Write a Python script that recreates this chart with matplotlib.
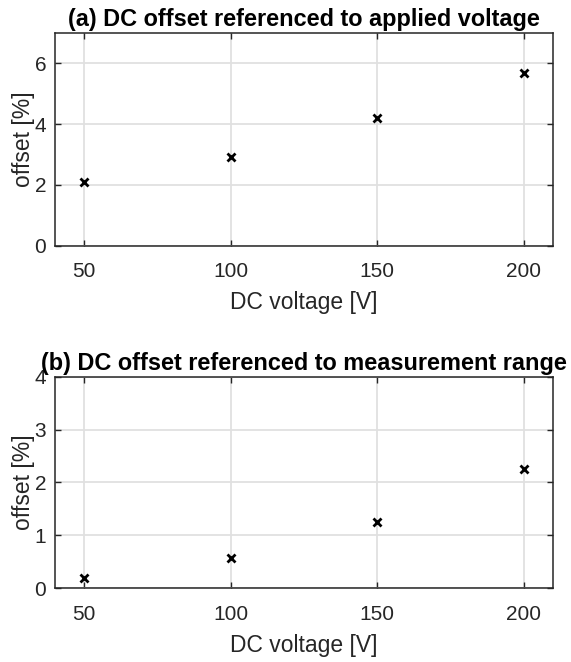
import matplotlib
matplotlib.use("Agg")
import matplotlib.pyplot as plt
from matplotlib import font_manager as fm

plt.rcParams['font.family'] = ['Liberation Sans', 'DejaVu Sans']

# Regular-width bold face for the panel titles
bold_file = None
for f in fm.findSystemFonts():
    if f.endswith('LiberationSans-Bold.ttf'):
        bold_file = f
        break
title_font = (fm.FontProperties(fname=bold_file, size=16.9) if bold_file
              else fm.FontProperties(family='Liberation Sans', weight='bold', size=16.9))

voltage = [50, 100, 150, 200]
offset_applied = [2.08, 2.91, 4.19, 5.68]
offset_range = [0.19, 0.58, 1.26, 2.26]

titles = ["(a) DC offset referenced to applied voltage",
          "(b) DC offset referenced to measurement range"]
xticks = [50, 100, 150, 200]
yticks_a = [0, 2, 4, 6]
yticks_b = [0, 1, 2, 3, 4]

fig = plt.figure(figsize=(5.71, 6.62), dpi=100)
ax_a = fig.add_axes([0.0958, 0.6289, 0.8727, 0.3213])
ax_b = fig.add_axes([0.0958, 0.1115, 0.8727, 0.3195])

axis_col = '#262626'
for ax, y, title, yt, ylim in [
    (ax_a, offset_applied, titles[0], yticks_a, (0, 7)),
    (ax_b, offset_range, titles[1], yticks_b, (0, 4)),
]:
    ax.plot(voltage, y, linestyle='none', marker='x', color='black',
            markersize=5.5, markeredgewidth=2, zorder=3)
    ax.set_xlim(40, 210)
    ax.set_ylim(*ylim)
    ax.set_xticks(xticks)
    ax.set_yticks(yt)
    ax.grid(True, color='#e0e0e0', linewidth=1.3)
    ax.set_axisbelow(True)
    ax.tick_params(direction='in', length=4, width=1.0, top=True, right=True,
                   labelsize=15, colors=axis_col, labelcolor=axis_col)
    ax.tick_params(axis='x', pad=12)
    ax.tick_params(axis='y', pad=6)
    for s in ax.spines.values():
        s.set_color(axis_col)
        s.set_linewidth(1.1)
    ax.set_xlabel('DC voltage [V]', fontsize=16.5, color=axis_col, labelpad=7)
    ax.set_ylabel('offset [%]', fontsize=16.5, color=axis_col, labelpad=0)
    ax.set_title(title, fontproperties=title_font, color='black', pad=5)

fig.savefig('out.png', dpi=100, facecolor='white')
